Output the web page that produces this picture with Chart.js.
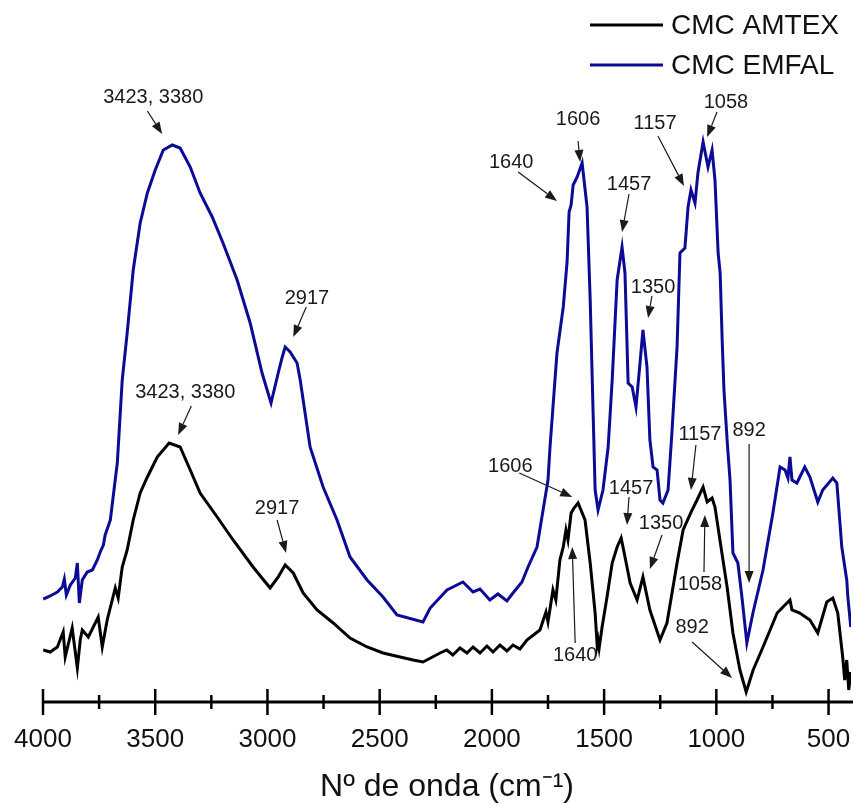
<!DOCTYPE html>
<html>
<head>
<meta charset="utf-8">
<script src="https://cdn.jsdelivr.net/npm/chart.js@4"></script>
<style>
  html, body { margin: 0; padding: 0; background: #fff; }
  #wrap { width: 854px; height: 805px; }
</style>
</head>
<body>
<div id="wrap"><canvas id="ftir"></canvas></div>
<script>
// espectros FTIR (numero de onda, señal en u.a.)
var amtexWavenumber = [3999,3968,3936,3910,3901,3870,3847,3834,3825,3798,3754,3736,3714,3678,3665,3647,3625,3598,3567,3535,3491,3438,3389,3344,3300,3224,3153,3064,2988,2952,2921,2885,2841,2779,2707,2632,2556,2485,2409,2351,2307,2231,2201,2174,2142,2111,2084,2053,2022,1995,1964,1933,1906,1875,1844,1786,1759,1750,1728,1715,1697,1682,1670,1661,1647,1634,1616,1585,1562,1540,1531,1527,1522,1509,1487,1464,1442,1424,1398,1384,1353,1327,1296,1251,1220,1175,1148,1108,1086,1059,1041,1019,1006,984,952,926,895,867,836,792,729,703,672,663,628,583,548,508,481,459,437,428,419,410,401];
var amtexSignal = [0.52,0.50,0.55,0.70,0.45,0.74,0.34,0.62,0.72,0.65,0.85,0.55,0.82,1.14,1.04,1.35,1.52,1.82,2.09,2.25,2.45,2.59,2.55,2.32,2.09,1.85,1.62,1.35,1.14,1.25,1.37,1.29,1.09,0.92,0.79,0.64,0.55,0.49,0.45,0.42,0.40,0.49,0.52,0.47,0.54,0.49,0.55,0.49,0.56,0.50,0.57,0.51,0.57,0.53,0.62,0.72,0.90,0.80,1.12,1.02,1.42,1.55,1.72,1.62,1.89,1.94,1.99,1.82,1.39,0.89,0.57,0.62,0.54,0.75,1.05,1.39,1.55,1.64,1.35,1.19,1.02,1.25,0.92,0.62,0.79,1.39,1.72,1.92,2.02,2.15,2.00,2.04,1.95,1.62,1.15,0.69,0.32,0.10,0.32,0.55,0.89,0.95,1.02,0.92,0.89,0.82,0.69,1.00,1.04,0.89,0.45,0.22,0.42,0.12,0.30];

var emfalWavenumber = [3999,3968,3936,3914,3905,3896,3878,3856,3847,3838,3825,3803,3780,3758,3745,3731,3723,3700,3669,3647,3625,3598,3567,3535,3500,3464,3424,3389,3344,3300,3246,3198,3135,3077,3024,2984,2952,2934,2921,2899,2868,2854,2810,2752,2690,2632,2556,2485,2423,2307,2275,2200,2129,2084,2053,2009,1973,1933,1906,1866,1839,1799,1750,1741,1710,1682,1665,1656,1647,1638,1620,1598,1576,1562,1549,1540,1527,1505,1482,1464,1442,1420,1407,1393,1375,1358,1340,1327,1309,1296,1282,1264,1251,1238,1215,1198,1175,1162,1140,1126,1113,1095,1082,1059,1037,1019,1006,992,983,974,966,952,939,926,904,886,864,837,792,748,716,694,681,672,663,641,606,583,548,526,481,463,441,419,414,401];
var emfalSignal = [1.03,1.06,1.10,1.15,1.23,1.07,1.17,1.24,1.39,0.99,1.22,1.30,1.32,1.42,1.50,1.57,1.67,1.82,2.39,3.22,3.69,4.32,4.79,5.09,5.32,5.52,5.57,5.54,5.35,5.09,4.85,4.59,4.22,3.79,3.29,2.99,3.29,3.45,3.55,3.50,3.39,3.22,2.55,2.15,1.82,1.45,1.22,1.05,0.87,0.80,0.94,1.12,1.20,1.10,1.13,1.02,1.08,1.01,1.09,1.20,1.35,1.55,2.22,2.55,3.49,3.95,4.40,4.90,4.97,5.17,5.25,5.39,4.95,4.02,2.89,2.12,1.92,2.12,2.55,3.22,4.22,4.55,4.29,3.19,3.15,2.95,3.39,3.72,3.35,2.62,2.35,2.32,2.02,1.99,2.12,2.69,3.55,4.49,4.54,4.95,5.12,4.99,5.29,5.60,5.35,5.52,5.22,4.49,4.29,3.62,3.12,2.62,2.22,1.49,1.39,1.05,0.59,0.89,1.32,1.89,2.35,2.32,2.24,2.45,2.22,2.19,2.35,2.25,2.00,2.12,2.24,2.19,1.55,1.22,1.05,0.75];

var seriesNames = ['CMC AMTEX', 'CMC EMFAL'];
var seriesColors = ['#000000', '#0b0b96'];

var majorTicks = [4000,3500,3000,2500,2000,1500,1000,500];
var minorTicks = [3750,3250,2750,2250,1750,1250,750];

// rotulos de picos
var calloutText = ['3423, 3380','2917','1640','1606','1457','1350','1157','1058','892',
                   '3423, 3380','2917','1606','1640','1457','1350','1157','1058','892'];
// [texto x, texto y, flecha desde x, y, hasta x, y] en unidades de datos
var calloutAt = [
  [3509,6.05, 3535,5.91, 3469,5.68],
  [2824,4.04, 2827,3.95, 2885,3.65],
  [1914,5.40, 1883,5.30, 1710,5.01],
  [1616,5.83, 1616,5.61, 1607,5.40],
  [1389,5.18, 1389,5.08, 1420,4.70],
  [1282,4.15, 1287,4.06, 1304,3.84],
  [1273,5.79, 1260,5.66, 1144,5.16],
  [957,6.00, 997,5.90, 1041,5.65],
  [854,2.72, 854,2.58, 854,1.19],
  [3366,3.10, 3339,2.96, 3398,2.67],
  [2957,1.94, 2957,1.82, 2917,1.49],
  [1918,2.36, 1878,2.29, 1642,2.05],
  [1629,0.47, 1629,0.59, 1642,1.55],
  [1380,2.14, 1389,2.05, 1398,1.77],
  [1246,1.79, 1242,1.67, 1296,1.33],
  [1073,2.68, 1091,2.57, 1113,2.12],
  [1073,1.18, 1055,1.30, 1051,1.87],
  [1108,0.75, 1108,0.60, 930,0.24]
];

function pairs(xs, ys) {
  var out = [];
  for (var i = 0; i < xs.length; i++) out.push({x: xs[i], y: ys[i]});
  return out;
}

var FONT = "'Liberation Sans', Arial, sans-serif";

var axisPlugin = {//eje x con marcas que cruzan la linea
  id: 'axisLine',
  afterDatasetsDraw: function(chart) {
    var ctx = chart.ctx;
    var xs = chart.scales.x;
    var y0 = chart.chartArea.bottom;
    ctx.save();
    ctx.strokeStyle = '#000';
    ctx.lineWidth = 3;
    ctx.beginPath();
    ctx.moveTo(xs.getPixelForValue(4000), y0);
    ctx.lineTo(chart.chartArea.right + 2, y0);
    ctx.stroke();
    ctx.lineWidth = 2.5;
    majorTicks.forEach(function(v) {
      var px = xs.getPixelForValue(v);
      ctx.beginPath(); ctx.moveTo(px, y0 - 13); ctx.lineTo(px, y0 + 13); ctx.stroke();
    });
    minorTicks.forEach(function(v) {
      var px = xs.getPixelForValue(v);
      ctx.beginPath(); ctx.moveTo(px, y0 - 7); ctx.lineTo(px, y0 + 7); ctx.stroke();
    });
    ctx.restore();
  }
};

var calloutPlugin = {//rotulos con flechas
  id: 'callouts',
  afterDatasetsDraw: function(chart) {
    var ctx = chart.ctx;
    var xs = chart.scales.x, ys = chart.scales.y;
    ctx.save();
    ctx.font = '20px ' + FONT;
    ctx.textAlign = 'center';
    ctx.textBaseline = 'middle';
    for (var i = 0; i < calloutText.length; i++) {
      var c = calloutAt[i];
      ctx.fillStyle = '#1a1a1a';
      ctx.fillText(calloutText[i], xs.getPixelForValue(c[0]), ys.getPixelForValue(c[1]));
      var x1 = xs.getPixelForValue(c[2]), y1 = ys.getPixelForValue(c[3]);
      var x2 = xs.getPixelForValue(c[4]), y2 = ys.getPixelForValue(c[5]);
      var ang = Math.atan2(y2 - y1, x2 - x1);
      var hl = 12, hw = 4.5;
      var bx = x2 - hl * Math.cos(ang), by = y2 - hl * Math.sin(ang);
      ctx.strokeStyle = '#1a1a1a';
      ctx.lineWidth = 1.2;
      ctx.beginPath(); ctx.moveTo(x1, y1); ctx.lineTo(bx, by); ctx.stroke();
      ctx.beginPath();
      ctx.moveTo(x2, y2);
      ctx.lineTo(bx + hw * Math.sin(ang), by - hw * Math.cos(ang));
      ctx.lineTo(bx - hw * Math.sin(ang), by + hw * Math.cos(ang));
      ctx.closePath();
      ctx.fill();
    }
    ctx.restore();
  }
};

var legendPlugin = {//leyenda arriba a la derecha
  id: 'sideLegend',
  afterDraw: function(chart) {
    var ctx = chart.ctx;
    ctx.save();
    ctx.font = '28px ' + FONT;
    ctx.textAlign = 'left';
    ctx.textBaseline = 'middle';
    chart.data.datasets.forEach(function(ds, i) {
      var y = 25 + i * 40;
      ctx.strokeStyle = ds.borderColor;
      ctx.lineWidth = 3;
      ctx.beginPath(); ctx.moveTo(590, y); ctx.lineTo(663, y); ctx.stroke();
      ctx.fillStyle = '#111';
      ctx.fillText(ds.label, 671, y + 1);
    });
    ctx.restore();
  }
};

var ctx = document.getElementById('ftir').getContext('2d');
var chart = new Chart(ctx, {
  type: 'line',
  data: {
    datasets: [{
      label: seriesNames[0],
      data: pairs(amtexWavenumber, amtexSignal),
      borderColor: seriesColors[0],
      borderWidth: 3,
      pointRadius: 0,
      tension: 0
    }, {
      label: seriesNames[1],
      data: pairs(emfalWavenumber, emfalSignal),
      borderColor: seriesColors[1],
      borderWidth: 3,
      pointRadius: 0,
      tension: 0
    }]
  },
  options: {
    responsive: true,
    maintainAspectRatio: false,
    animation: false,
    layout: { padding: { left: 43, right: 3, top: 102, bottom: 0 } },
    plugins: {
      legend: { display: false },
      tooltip: { enabled: false }
    },
    scales: {
      x: {
        type: 'linear',
        min: 400,
        max: 4000,
        reverse: true,
        grid: { display: false, drawTicks: false },
        border: { display: false },
        afterBuildTicks: function(scale) {
          scale.ticks = majorTicks.slice().reverse().map(function(v) { return {value: v}; });
        },
        afterFit: function(scale) {
          scale.paddingLeft = 0;
          scale.paddingRight = 0;
          scale.height = 103;
        },
        ticks: {
          autoSkip: false,
          maxRotation: 0,
          padding: 22,
          color: '#111',
          font: { family: FONT, size: 26 },
          callback: function(v) { return String(v); }
        },
        title: {
          display: true,
          text: 'Nº de onda (cm⁻¹)',
          color: '#111',
          font: { family: FONT, size: 32, lineHeight: 1 },
          padding: { top: 15, bottom: 2 }
        }
      },
      y: {
        display: false,
        min: 0,
        max: 6
      }
    }
  },
  plugins: [axisPlugin, calloutPlugin, legendPlugin]
});
</script>
</body>
</html>
